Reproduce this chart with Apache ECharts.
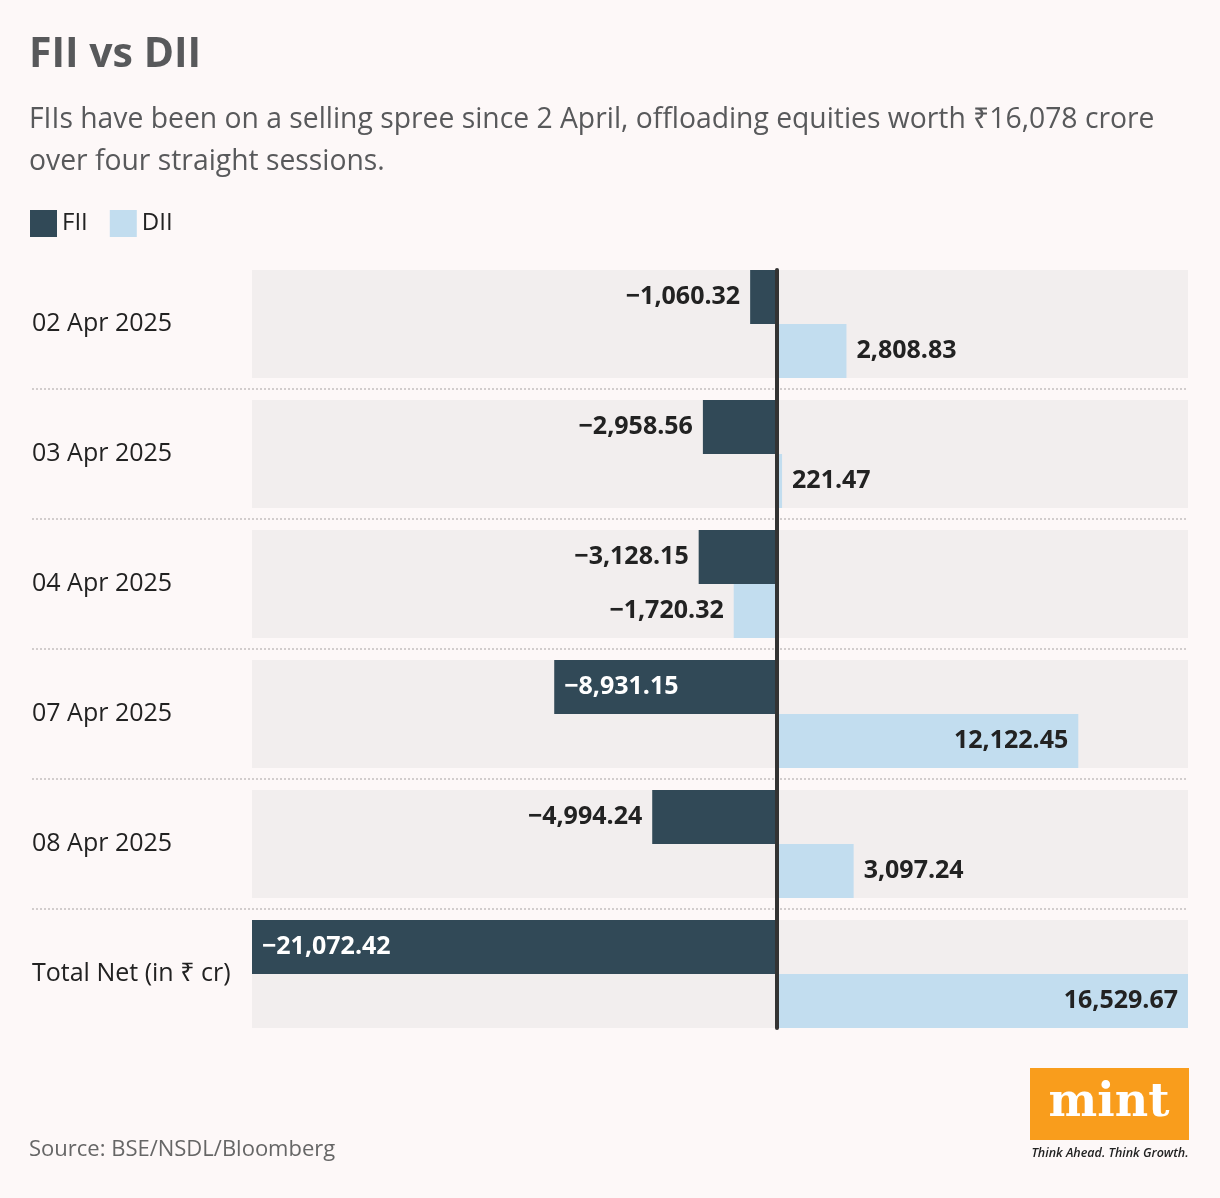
<!DOCTYPE html>
<html>
<head>
<meta charset="utf-8">
<script src="https://cdn.jsdelivr.net/npm/echarts@6/dist/echarts.min.js"></script>
<style>
html,body{margin:0;padding:0;background:#fdf8f8;}
#chart{width:1220px;height:1198px;}
</style>
</head>
<body>
<div id="chart"></div>
<script>
const categories = ['02 Apr 2025', '03 Apr 2025', '04 Apr 2025', '07 Apr 2025', '08 Apr 2025', 'Total Net (in ₹ cr)'];
const fiiValues = [-1060.32, -2958.56, -3128.15, -8931.15, -4994.24, -21072.42];
const diiValues = [2808.83, 221.47, -1720.32, 12122.45, 3097.24, 16529.67];
const seriesNames = ['FII', 'DII'];

const FONT = '"Open Sans", "Noto Sans", sans-serif';
const FII_COLOR = '#314957';
const DII_COLOR = '#c2ddef';
const BAND = '#f2eeee';

const allVals = fiiValues.concat(diiValues);
const xMin = Math.min(...allVals);
const xMax = Math.max(...allVals);
const range = xMax - xMin;

function fmt(v) {
  const s = Math.abs(v).toLocaleString('en-US', {minimumFractionDigits: 2, maximumFractionDigits: 2});
  return (v < 0 ? '\u2212' : '') + s;
}

function items(values, insideColor) {
  return values.map(v => {
    const inside = Math.abs(v) / range > 0.2;
    let position;
    if (inside) position = v < 0 ? 'insideLeft' : 'insideRight';
    else position = v < 0 ? 'left' : 'right';
    return {
      value: v,
      label: {
        position: position,
        color: inside ? insideColor : '#222'
      }
    };
  });
}

const labelBase = {
  show: true,
  distance: 10,
  fontFamily: FONT,
  fontSize: 25,
  fontWeight: 'bold',
  formatter: p => fmt(p.value)
};

const chart = echarts.init(document.getElementById('chart'), null, {renderer: 'canvas'});

const option = {
  backgroundColor: '#fdf8f8',
  animation: false,
  title: [
    {
      text: 'FII vs DII',
      left: 29, top: 35, padding: 0,
      textStyle: {fontFamily: FONT, fontSize: 41, fontWeight: 'bold', color: '#58595b'}
    },
    {
      text: 'FIIs have been on a selling spree since 2 April, offloading equities worth ₹16,078 crore\nover four straight sessions.',
      left: 29, top: 99, padding: 0,
      textStyle: {fontFamily: FONT, fontSize: 28.3, fontWeight: 'normal', color: '#58595b', lineHeight: 42}
    },
    {
      text: 'Source: BSE/NSDL/Bloomberg',
      left: 29, top: 1139, padding: 0,
      textStyle: {fontFamily: FONT, fontSize: 22, fontWeight: 'normal', color: '#666'}
    }
  ],
  legend: {
    left: 30, top: 210, padding: 0,
    icon: 'rect',
    itemWidth: 27, itemHeight: 27,
    itemGap: 22,
    textStyle: {fontFamily: FONT, fontSize: 24, color: '#222', padding: [0, 0, 0, 0]},
    data: seriesNames
  },
  grid: [
    {left: 252, right: 32, top: 259, height: 780},
    {left: 32, right: 32, top: 259, height: 780},
    {left: 252, right: 32, top: 270, height: 758}
  ],
  xAxis: [
    {gridIndex: 0, type: 'value', min: xMin, max: xMax, show: false},
    {gridIndex: 1, type: 'value', min: 0, max: 1, show: false},
    {gridIndex: 2, type: 'value', min: xMin, max: xMax, show: false}
  ],
  yAxis: [
    {
      gridIndex: 0, type: 'category', inverse: true, data: categories,
      axisLine: {show: false}, axisTick: {show: false}, splitLine: {show: false},
      axisLabel: {align: 'left', margin: 220, fontFamily: FONT, fontSize: 25, color: '#222'}
    },
    {
      gridIndex: 1, type: 'category', inverse: true, data: categories,
      axisLine: {show: false}, axisTick: {show: false}, axisLabel: {show: false},
      splitLine: {show: true, showMinLine: false, showMaxLine: false,
        lineStyle: {color: '#d2cdcd', width: 2, type: [2, 2]}}
    },
    {
      gridIndex: 2, type: 'category', inverse: true, data: categories, z: 10,
      axisLine: {show: true, onZero: true, lineStyle: {color: '#333', width: 4}},
      axisTick: {show: false}, axisLabel: {show: false}, splitLine: {show: false}
    }
  ],
  series: [
    {
      name: seriesNames[0], type: 'bar', xAxisIndex: 0, yAxisIndex: 0,
      barWidth: 54, barGap: '0%',
      itemStyle: {color: FII_COLOR},
      showBackground: true, backgroundStyle: {color: BAND},
      label: labelBase,
      data: items(fiiValues, '#ffffff')
    },
    {
      name: seriesNames[1], type: 'bar', xAxisIndex: 0, yAxisIndex: 0,
      barWidth: 54, barGap: '0%',
      itemStyle: {color: DII_COLOR},
      showBackground: true, backgroundStyle: {color: BAND},
      label: labelBase,
      data: items(diiValues, '#222')
    }
  ],
  graphic: [
    {
      type: 'group', left: 1030, top: 1068,
      children: [
        {type: 'rect', shape: {x: 0, y: 0, width: 159, height: 72}, style: {fill: '#f99d1c'}},
        {type: 'text', x: 79, y: 36, style: {text: 'mint', fill: '#fff', font: 'bold 46px "DejaVu Serif", serif', align: 'center', verticalAlign: 'middle'}},
        {type: 'text', x: 80, y: 85, style: {text: 'Think Ahead. Think Growth.', fill: '#222', font: 'italic 600 12.5px "Open Sans", sans-serif', align: 'center', verticalAlign: 'middle'}}
      ]
    }
  ]
};

chart.setOption(option);
</script>
</body>
</html>
